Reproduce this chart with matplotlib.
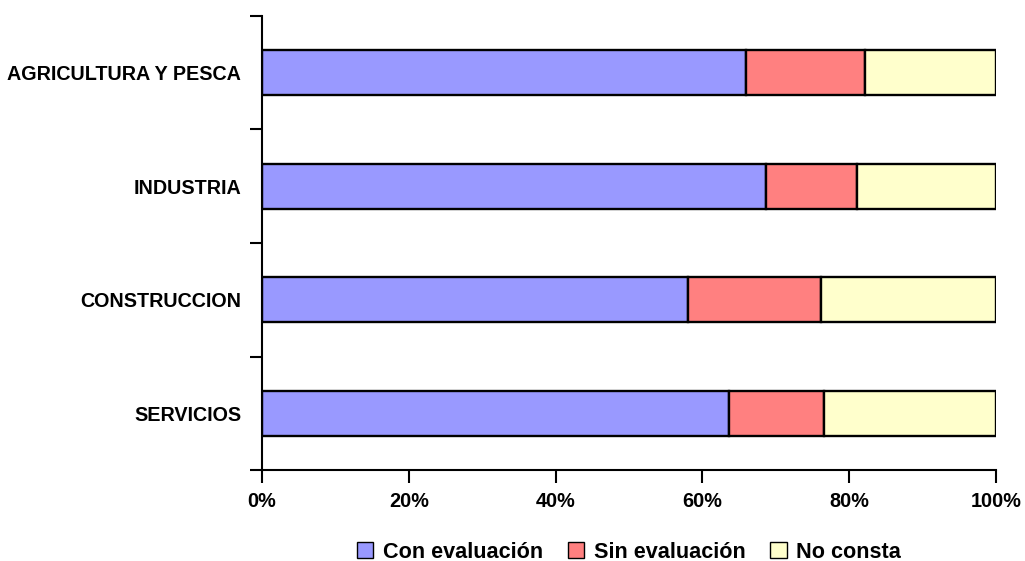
import matplotlib.pyplot as plt
import numpy as np
from matplotlib.ticker import FuncFormatter

plt.rcParams['font.family'] = ['Liberation Sans', 'DejaVu Sans']

sectores = ["AGRICULTURA Y PESCA", "INDUSTRIA", "CONSTRUCCION", "SERVICIOS"]
con_eval = [65.9, 68.7, 58.0, 63.6]
sin_eval = [16.3, 12.4, 18.2, 13.0]
no_consta = [17.8, 18.9, 23.8, 23.4]
series = ["Con evaluación", "Sin evaluación", "No consta"]
colores = ["#9999FF", "#FF8080", "#FFFFCC"]

fig = plt.figure(figsize=(10.25, 5.61), dpi=100)
ax = fig.add_axes([0.2556, 0.1622, 0.7161, 0.8093])

y = np.arange(len(sectores))[::-1]
left = np.zeros(len(sectores))
for nombre, vals, col in zip(series, [con_eval, sin_eval, no_consta], colores):
    ax.barh(y, vals, left=left, height=0.4, color=col, edgecolor="black",
            linewidth=1.7, label=nombre)
    left += np.array(vals)

ax.set_xlim(0, 100)
ax.set_ylim(-0.5, len(sectores) - 0.5)
ax.set_xticks(np.arange(0, 101, 20))
ax.xaxis.set_major_formatter(FuncFormatter(lambda v, p: f"{int(v)}%"))
ax.set_yticks(y)
ax.set_yticklabels(sectores)
ax.set_yticks(np.arange(-0.5, len(sectores), 1), minor=True)
ax.tick_params(axis="y", which="major", length=0, pad=15, labelsize=14.2)
ax.tick_params(axis="y", which="minor", length=9, width=1.5)
ax.tick_params(axis="x", length=9, width=1.5, labelsize=14.3, pad=7)
for lab in ax.get_xticklabels() + ax.get_yticklabels():
    lab.set_fontweight("bold")

for s in ["top", "right"]:
    ax.spines[s].set_visible(False)
for s in ["left", "bottom"]:
    ax.spines[s].set_linewidth(1.5)

leg = ax.legend(loc="upper center", bbox_to_anchor=(0.5, -0.115), ncol=3,
                frameon=False, handlelength=0.75, handleheight=0.75,
                handletextpad=0.45, columnspacing=1.15,
                prop={"size": 15.6, "weight": "bold"})
for h in leg.legend_handles:
    h.set_linewidth(1.0)

fig.savefig("out.png", dpi=100)
